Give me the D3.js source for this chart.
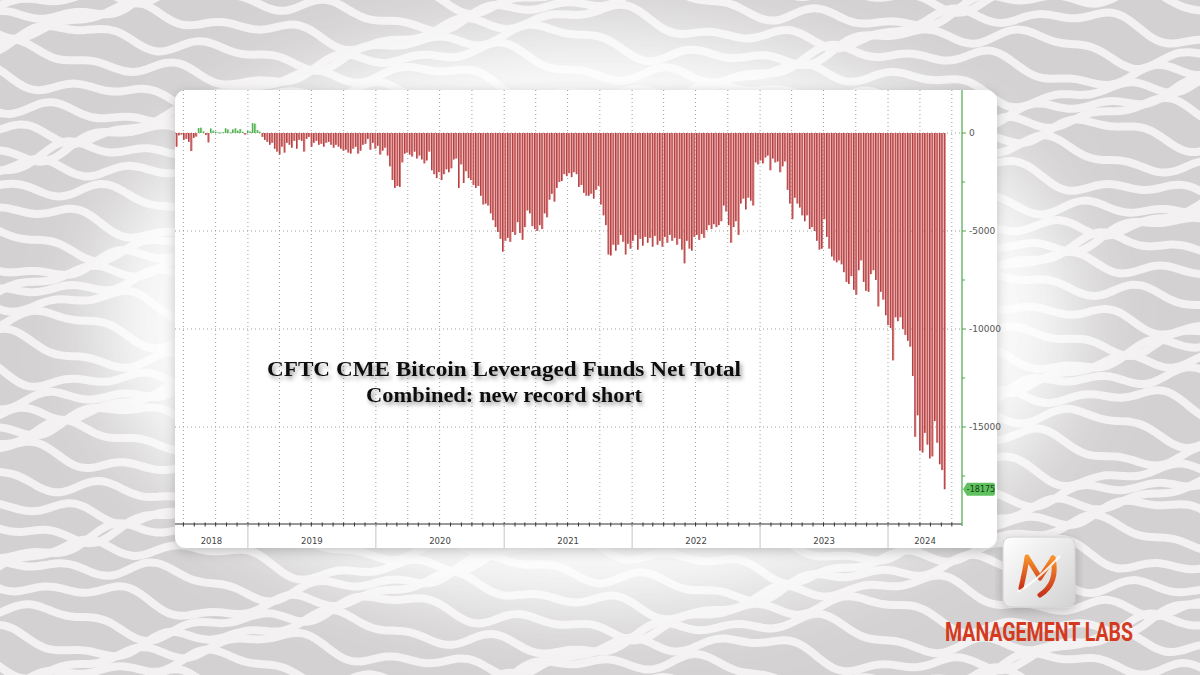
<!DOCTYPE html>
<html><head><meta charset="utf-8">
<script src="https://cdn.jsdelivr.net/npm/d3@7"></script>
<style>html,body{margin:0;padding:0;background:#dcdada;} svg{display:block;}</style>
</head><body>
<svg id="c" width="1200" height="675"></svg>
<script>
// ---------------- DATA ----------------
const firstWeek = "2018-06-12";   // weekly CFTC reports, one bar per week
const netPositions = [
  -700,-120,-80,-350,-300,-450,-920,-250,-180,250,
  270,80,-100,-480,230,120,60,30,20,40,
  240,180,30,180,240,120,200,60,-80,120,
  80,500,480,150,60,-200,-350,-450,-600,-500,
  -800,-950,-1100,-700,-1000,-500,-600,-750,-400,-800,
  -350,-400,-950,-300,-200,-700,-500,-400,-600,-550,
  -700,-500,-450,-600,-750,-600,-700,-800,-900,-850,
  -1000,-1050,-800,-700,-1050,-900,-600,-550,-300,-850,
  -500,-800,-650,-1100,-900,-750,-1150,-1700,-2400,-2800,
  -2700,-2750,-1500,-1050,-1000,-1100,-1200,-950,-1300,-1150,
  -1350,-1550,-1400,-950,-1900,-2100,-2300,-2000,-2400,-2100,
  -1850,-2000,-1800,-1350,-1300,-2800,-1600,-2550,-1950,-2300,
  -2400,-2650,-2800,-2700,-3200,-3650,-3600,-3700,-4100,-4450,
  -4800,-5050,-5400,-6050,-5500,-5350,-5550,-5050,-5200,-4550,
  -5100,-5450,-4800,-3950,-4100,-4750,-4900,-5000,-4700,-4900,
  -4100,-4300,-3400,-3100,-3500,-2800,-2500,-2450,-2100,-2200,
  -2050,-2250,-2000,-2100,-2750,-2650,-3050,-3200,-3200,-3100,
  -3350,-2900,-2700,-3650,-4200,-4700,-6200,-6250,-5700,-6000,
  -5700,-5200,-5550,-6200,-5650,-5900,-5500,-5200,-5950,-5400,
  -5750,-5300,-5600,-5350,-5800,-5250,-5700,-5500,-5800,-5300,
  -5600,-5200,-5500,-5350,-5700,-5400,-5950,-6650,-5500,-5900,
  -6000,-5300,-5200,-5450,-5150,-5350,-4950,-4700,-4900,-4650,
  -4800,-4700,-4500,-3700,-4000,-4700,-5600,-4800,-4500,-5200,
  -3600,-3350,-3900,-3300,-3450,-3700,-1500,-1600,-1400,-1550,
  -1250,-1150,-1900,-1300,-1500,-1450,-2000,-1700,-1450,-2900,
  -3600,-4400,-3300,-3600,-3800,-4200,-4500,-4200,-4900,-4800,
  -5000,-5500,-5950,-5900,-4400,-5300,-5900,-6300,-6500,-6600,
  -6500,-6700,-7100,-7600,-7700,-7300,-8000,-8250,-7000,-6500,
  -7600,-8050,-8100,-7200,-7000,-7500,-8850,-8100,-8500,-9300,
  -9800,-9950,-11600,-9400,-9600,-9400,-10000,-10300,-10600,-10900,
  -12400,-15500,-14400,-16200,-16300,-15300,-15900,-16600,-16500,-14700,
  -15800,-16900,-17200,-18175
];
const yTicks = [0, -5000, -10000, -15000];
const yMinorTicks = [-2500, -7500, -12500, -17500];
const yTickLabels = ["0", "-5000", "-10000", "-15000"];
const yearLabels = ["2018", "2019", "2020", "2021", "2022", "2023", "2024"];
const lastValueLabel = "-18175";
const titleLines = ["CFTC CME Bitcoin Leveraged Funds Net Total", "Combined: new record short"];
const brandText = "MANAGEMENT LABS";

// ---------------- SETUP ----------------
const svg = d3.select("#c");
const defs = svg.append("defs");
const parse = d3.timeParse("%Y-%m-%d");
const start = parse(firstWeek);
const dates = netPositions.map((_, i) => d3.timeDay.offset(start, 7 * i));

const plotL = 175, plotR = 962, plotT = 90, plotB = 524;
const x = d3.scaleTime().domain([new Date(2018, 5, 7), new Date(2024, 6, 30)]).range([plotL, plotR]);
const y = d3.scaleLinear().domain([0, -15000]).range([133, 427]);

// filters
const blur = defs.append("filter").attr("id", "glow").attr("x", "-50%").attr("y", "-50%").attr("width", "200%").attr("height", "200%");
blur.append("feGaussianBlur").attr("stdDeviation", 40);
const shadow = defs.append("filter").attr("id", "shadow").attr("x", "-10%").attr("y", "-10%").attr("width", "120%").attr("height", "130%");
shadow.append("feDropShadow").attr("dx", 0).attr("dy", 3).attr("stdDeviation", 6).attr("flood-color", "#000").attr("flood-opacity", 0.22);
const tshadow = defs.append("filter").attr("id", "tshadow").attr("x", "-10%").attr("y", "-50%").attr("width", "120%").attr("height", "200%");
tshadow.append("feDropShadow").attr("dx", 2).attr("dy", 3).attr("stdDeviation", 2).attr("flood-color", "#000").attr("flood-opacity", 0.4);

// ---------------- BACKGROUND ----------------
svg.append("rect").attr("width", 1200).attr("height", 675).attr("fill", "#d3d1d1");
const bgG = svg.append("g");
for (let k = 0; k < 40; k++) {
  const y0 = -30 + k * 19;
  const pts = d3.range(-20, 1230, 8).map(px => [px,
    y0 + 14 * Math.sin(px / 70 + k * 0.9) + 7 * Math.sin(px / 26 + k * 2.1) + 5 * Math.cos(px / 13 + k * 1.7)]);
  bgG.append("path").attr("d", d3.line().curve(d3.curveBasis)(pts))
    .attr("fill", "none").attr("stroke", "#f3f1f1").attr("stroke-width", 8);
}
svg.append("ellipse").attr("cx", 588).attr("cy", 320).attr("rx", 490).attr("ry", 290)
  .attr("fill", "#ffffff").attr("opacity", 0.9).attr("filter", "url(#glow)");

// ---------------- CARD ----------------
svg.append("rect").attr("x", 175).attr("y", 90).attr("width", 822).attr("height", 458).attr("rx", 11)
  .attr("fill", "#ffffff").attr("filter", "url(#shadow)");

const g = svg.append("g");

// grid lines (dotted)
const quarters = d3.timeMonth.every(3).range(x.domain()[0], x.domain()[1]);
g.selectAll(".vg").data(quarters).join("line")
  .attr("x1", d => x(d)).attr("x2", d => x(d)).attr("y1", plotT).attr("y2", plotB)
  .attr("stroke", "#9d9d9d").attr("stroke-width", 1).attr("stroke-dasharray", "1,3");
g.selectAll(".hg").data(yTicks).join("line")
  .attr("x1", plotL).attr("x2", plotR).attr("y1", d => y(d)).attr("y2", d => y(d))
  .attr("stroke", "#9d9d9d").attr("stroke-width", 1).attr("stroke-dasharray", "1,3");

// bars
const bw = 1.9;
const bars = g.append("g");
netPositions.forEach((v, i) => {
  const cx = x(dates[i]);
  const y1 = Math.min(y(v), y(0)), h = Math.max(0.8, Math.abs(y(v) - y(0)));
  const neg = v < 0;
  bars.append("rect").attr("x", cx - bw / 2).attr("y", y1).attr("width", bw).attr("height", h)
    .attr("fill", neg ? "#dc7878" : "#8fd88f");
  bars.append("rect").attr("x", cx - bw / 2).attr("y", y1).attr("width", 0.8).attr("height", h)
    .attr("fill", neg ? "#a23436" : "#3c9a3c");
});

// x axis
g.append("line").attr("x1", plotL).attr("x2", plotR).attr("y1", plotB).attr("y2", plotB)
  .attr("stroke", "#333").attr("stroke-width", 1);
const months = d3.timeMonth.range(x.domain()[0], x.domain()[1]);
g.selectAll(".mt").data(months).join("line")
  .attr("x1", d => x(d)).attr("x2", d => x(d)).attr("y1", plotB - 1.5).attr("y2", plotB + 2.5)
  .attr("stroke", "#333").attr("stroke-width", 1);
const yearStarts = yearLabels.map(s => new Date(+s, 0, 1));
g.selectAll(".ys").data(yearStarts.filter(d => x(d) > plotL && x(d) < plotR)).join("line")
  .attr("x1", d => x(d)).attr("x2", d => x(d)).attr("y1", plotB).attr("y2", 548)
  .attr("stroke", "#c4c4c4").attr("stroke-width", 1);
g.selectAll(".yl").data(yearLabels).join("text")
  .attr("x", s => {
    const a = Math.max(plotL, x(new Date(+s, 0, 1)));
    const b = Math.min(plotR, x(new Date(+s + 1, 0, 1)));
    return (a + b) / 2;
  })
  .attr("y", 544).attr("text-anchor", "middle")
  .attr("font-family", "DejaVu Sans, sans-serif").attr("font-size", 8.5).attr("fill", "#444")
  .text(s => s);

// right axis
const axG = g.append("g");
axG.append("line").attr("x1", plotR).attr("x2", plotR).attr("y1", plotT).attr("y2", plotB + 2)
  .attr("stroke", "#4aa84a").attr("stroke-width", 1.2);
axG.selectAll(".yt").data(yTicks).join("line")
  .attr("x1", plotR).attr("x2", plotR + 4).attr("y1", d => y(d)).attr("y2", d => y(d))
  .attr("stroke", "#4aa84a").attr("stroke-width", 1);
axG.selectAll(".ymt").data(yMinorTicks).join("line")
  .attr("x1", plotR).attr("x2", plotR + 3).attr("y1", d => y(d)).attr("y2", d => y(d))
  .attr("stroke", "#4aa84a").attr("stroke-width", 1);
axG.selectAll(".ytl").data(yTicks).join("text")
  .attr("x", plotR + 7).attr("y", d => y(d) + 3)
  .attr("font-family", "DejaVu Sans, sans-serif").attr("font-size", 9).attr("fill", "#555")
  .text((d, i) => yTickLabels[i]);
const lastV = netPositions[netPositions.length - 1];
axG.append("path")
  .attr("d", `M${plotR + 1},${y(lastV)} L${plotR + 5},${y(lastV) - 6.5} H${plotR + 31} a2,2 0 0 1 2,2 V${y(lastV) + 4.5} a2,2 0 0 1 -2,2 H${plotR + 5} Z`)
  .attr("fill", "#5fc25f");
axG.append("text").attr("x", plotR + 19).attr("y", y(lastV) + 3).attr("text-anchor", "middle")
  .attr("font-family", "DejaVu Sans, sans-serif").attr("font-size", 8).attr("fill", "#123c12")
  .text(lastValueLabel);

// title
const tG = svg.append("g").attr("filter", "url(#tshadow)");
tG.append("text").attr("x", 504).attr("y", 376).attr("text-anchor", "middle")
  .attr("font-family", "Liberation Serif, DejaVu Serif, serif").attr("font-weight", "bold").attr("font-size", 20)
  .attr("fill", "#111").attr("textLength", 474).attr("lengthAdjust", "spacingAndGlyphs").text(titleLines[0]);
tG.append("text").attr("x", 504).attr("y", 402).attr("text-anchor", "middle")
  .attr("font-family", "Liberation Serif, DejaVu Serif, serif").attr("font-weight", "bold").attr("font-size", 20)
  .attr("fill", "#111").attr("textLength", 276).attr("lengthAdjust", "spacingAndGlyphs").text(titleLines[1]);

// ---------------- LOGO ----------------
const lg = defs.append("linearGradient").attr("id", "logoBg").attr("x1", 0).attr("y1", 0).attr("x2", 1).attr("y2", 1);
lg.append("stop").attr("offset", "0%").attr("stop-color", "#ffffff");
lg.append("stop").attr("offset", "100%").attr("stop-color", "#d2d2d2");
const og = defs.append("linearGradient").attr("id", "logoM").attr("x1", 0).attr("y1", 0).attr("x2", 0).attr("y2", 1);
og.append("stop").attr("offset", "0%").attr("stop-color", "#f7922c");
og.append("stop").attr("offset", "100%").attr("stop-color", "#c8321a");
svg.append("rect").attr("x", 1003).attr("y", 537).attr("width", 72).attr("height", 70).attr("rx", 8)
  .attr("fill", "url(#logoBg)").attr("stroke", "#d0d0d0").attr("filter", "url(#shadow)");
const mG = svg.append("g");
mG.append("path").attr("d", "M1021,588 C1024,575 1026,565 1027,557 L1040,578 L1053,558")
  .attr("fill", "none").attr("stroke", "url(#logoM)").attr("stroke-width", 5).attr("stroke-linejoin", "round").attr("stroke-linecap", "round");
mG.append("path").attr("d", "M1053,558 C1056,572 1054,586 1040,595")
  .attr("fill", "none").attr("stroke", "url(#logoM)").attr("stroke-width", 5).attr("stroke-linecap", "round");
mG.append("path").attr("d", "M1018,592 C1030,585 1042,575 1060,556")
  .attr("fill", "none").attr("stroke", "#ffffff").attr("stroke-width", 2).attr("opacity", 0.85);
svg.append("text").attr("x", 945).attr("y", 641)
  .attr("font-family", "Liberation Sans Narrow, Roboto, sans-serif").attr("font-weight", "bold").attr("font-size", 26)
  .attr("fill", "#d5391e").attr("textLength", 188).attr("lengthAdjust", "spacingAndGlyphs").text(brandText);
</script>
</body></html>
